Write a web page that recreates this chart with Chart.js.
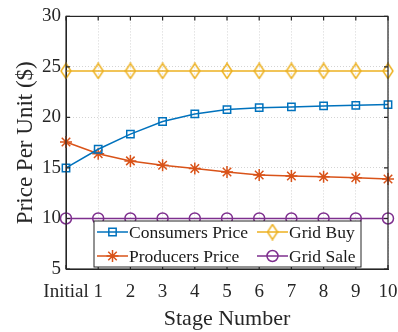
<!DOCTYPE html>
<html>
<head>
<meta charset="utf-8">
<script src="https://cdn.jsdelivr.net/npm/chart.js@4/dist/chart.umd.min.js"></script>
<style>
  html, body { margin: 0; padding: 0; background: #fff; }
  #wrap { width: 398px; height: 332px; }
</style>
</head>
<body>
<div id="wrap"><canvas id="chart" width="398" height="332"></canvas></div>
<script>
const stages = ['Initial', '1', '2', '3', '4', '5', '6', '7', '8', '9', '10'];
const consumersPrice = [15.0, 16.85, 18.35, 19.6, 20.35, 20.78, 20.97, 21.04, 21.14, 21.2, 21.27];
const producersPrice = [17.57, 16.4, 15.7, 15.26, 14.95, 14.6, 14.3, 14.2, 14.12, 14.03, 13.9];
const gridBuy = [24.6, 24.6, 24.6, 24.6, 24.6, 24.6, 24.6, 24.6, 24.6, 24.6, 24.6];
const gridSale = [10, 10, 10, 10, 10, 10, 10, 10, 10, 10, 10];

const FONT = "'Liberation Serif', 'Times New Roman', serif";
const INK = '#262626';

// tall diamond marker like the one in the figure
function makeDiamond(color) {
    const c = document.createElement('canvas');
    c.width = 12; c.height = 17;
    const g = c.getContext('2d');
    g.strokeStyle = color;
    g.lineWidth = 1.5;
    g.beginPath();
    g.moveTo(6, 1); g.lineTo(11, 8.5); g.lineTo(6, 16); g.lineTo(1, 8.5);
    g.closePath();
    g.stroke();
    return c;
}

function series(label, data, color, style, radius) {
    return {
        label: label,
        data: data,
        borderColor: color,
        backgroundColor: 'rgba(0,0,0,0)',
        borderWidth: 1.5,
        pointStyle: style,
        pointRadius: radius,
        pointBorderColor: color,
        pointBackgroundColor: 'rgba(0,0,0,0)',
        pointBorderWidth: 1.5,
        tension: 0
    };
}

// frame, inner ticks and the legend box drawn inside the plot
const framePlugin = {
    id: 'frame',
    afterDraw(chart) {
        const ctx = chart.ctx;
        const a = chart.chartArea;
        const xs = chart.scales.x;
        const ys = chart.scales.y;
        ctx.save();
        ctx.setLineDash([]);
        ctx.strokeStyle = INK;
        ctx.lineWidth = 1.2;
        ctx.strokeRect(a.left, a.top, a.right - a.left, a.bottom - a.top);

        // inward ticks
        ctx.beginPath();
        stages.forEach((_, i) => {
            const x = xs.getPixelForValue(i);
            ctx.moveTo(x, a.bottom); ctx.lineTo(x, a.bottom - 4);
            ctx.moveTo(x, a.top); ctx.lineTo(x, a.top + 4);
        });
        [5, 10, 15, 20, 25, 30].forEach(v => {
            const y = ys.getPixelForValue(v);
            ctx.moveTo(a.left, y); ctx.lineTo(a.left + 4, y);
            ctx.moveTo(a.right, y); ctx.lineTo(a.right - 4, y);
        });
        ctx.stroke();

        // legend
        const lx = 94, ly = 221, lw = 267, lh = 46;
        ctx.fillStyle = '#fff';
        ctx.fillRect(lx, ly, lw, lh);
        ctx.strokeStyle = INK;
        ctx.lineWidth = 1;
        ctx.strokeRect(lx, ly, lw, lh);
        const ds = chart.data.datasets;
        const cells = [
            [0, 97, 232], [2, 257, 232],
            [1, 97, 256], [3, 257, 256]
        ];
        ctx.font = '17.5px ' + FONT;
        ctx.textBaseline = 'middle';
        cells.forEach(([i, x, y]) => {
            const d = ds[i];
            ctx.strokeStyle = d.borderColor;
            ctx.fillStyle = 'rgba(0,0,0,0)';
            ctx.lineWidth = 1.5;
            ctx.beginPath();
            ctx.moveTo(x, y); ctx.lineTo(x + 31, y);
            ctx.stroke();
            Chart.helpers.drawPoint(ctx, {
                pointStyle: d.pointStyle, radius: d.pointRadius, borderWidth: 1.5
            }, x + 15.5, y);
            ctx.fillStyle = '#1a1a1a';
            ctx.fillText(d.label, x + 32, y + 1);
        });
        ctx.restore();
    }
};

new Chart(document.getElementById('chart'), {
    type: 'line',
    data: {
        labels: stages,
        datasets: [
            series('Consumers Price', consumersPrice, '#0072BD', 'rect', 5.2),
            series('Producers Price', producersPrice, '#D95319', 'star', 6),
            series('Grid Buy', gridBuy, '#EDB120', makeDiamond('#EDB120'), 6),
            series('Grid Sale', gridSale, '#7E2F8E', 'circle', 5.5)
        ]
    },
    options: {
        responsive: false,
        animation: false,
        layout: { padding: { top: 15, right: 0, left: 0, bottom: 0 } },
        plugins: {
            legend: { display: false },
            tooltip: { enabled: false }
        },
        scales: {
            x: {
                type: 'category',
                offset: false,
                grid: {
                    color: '#d4d4d4',
                    lineWidth: 1,
                    drawTicks: false
                },
                border: { display: true, color: INK, dash: [1, 2] },
                ticks: {
                    color: INK,
                    font: { family: FONT, size: 19 },
                    padding: 12,
                    maxRotation: 0,
                    autoSkip: false
                },
                title: {
                    display: true,
                    text: 'Stage Number',
                    color: INK,
                    font: { family: FONT, size: 22 },
                    padding: { top: 0, bottom: 0 }
                },
                afterFit(scale) {
                    scale.height = 63;
                    scale.paddingRight = 10;
                }
            },
            y: {
                min: 5,
                max: 30,
                ticks: {
                    stepSize: 5,
                    color: INK,
                    font: { family: FONT, size: 19 },
                    padding: 5
                },
                grid: {
                    color: '#d4d4d4',
                    lineWidth: 1,
                    drawTicks: false
                },
                border: { display: true, color: INK, dash: [1, 2] },
                title: {
                    display: true,
                    text: 'Price Per Unit ($)',
                    color: INK,
                    font: { family: FONT, size: 23 },
                    padding: { top: 12, bottom: 0 }
                },
                afterFit(scale) { scale.width = 66; }
            }
        }
    },
    plugins: [framePlugin]
});
</script>
</body>
</html>
